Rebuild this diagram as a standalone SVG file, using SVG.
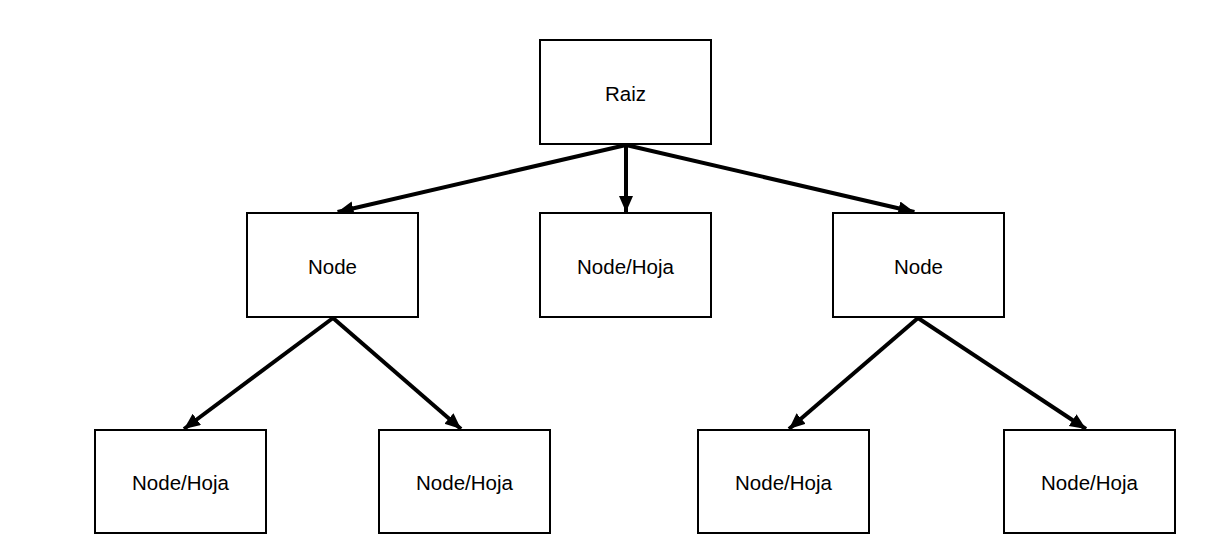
<svg xmlns="http://www.w3.org/2000/svg" width="1216" height="560" viewBox="0 0 1216 560">
<style>
.box{fill:#fff;stroke:#000;stroke-width:2}
.lbl{font-family:"Liberation Sans",Arial,sans-serif;font-size:20.5px;fill:#000;text-anchor:middle;dominant-baseline:central}
.edge{stroke:#000;stroke-width:4;fill:none;marker-end:url(#ah)}
</style>
<defs>
<marker id="ah" markerUnits="userSpaceOnUse" markerWidth="17" markerHeight="15" refX="16" refY="7" orient="auto">
<path d="M0,0 L16,7 L0,14 Z" fill="#000"/>
</marker>
</defs>
<rect width="1216" height="560" fill="#fff"/>
<g id="connectors">
<line class="edge" x1="626" y1="145" x2="337.6" y2="212"/>
<line class="edge" x1="626" y1="145" x2="626" y2="212"/>
<line class="edge" x1="626" y1="145" x2="914.4" y2="212"/>
<line class="edge" x1="333" y1="318" x2="184" y2="429"/>
<line class="edge" x1="333" y1="318" x2="461" y2="429"/>
<line class="edge" x1="918" y1="318" x2="789" y2="429"/>
<line class="edge" x1="918" y1="318" x2="1086" y2="429"/>
</g>
<g id="raiz"><rect class="box" x="540" y="40" width="171" height="104"/><text class="lbl" x="625.5" y="93">Raiz</text></g>
<g id="node-left"><rect class="box" x="247" y="213" width="171" height="104"/><text class="lbl" x="332.5" y="266">Node</text></g>
<g id="node-center"><rect class="box" x="540" y="213" width="171" height="104"/><text class="lbl" x="625.5" y="266">Node/Hoja</text></g>
<g id="node-right"><rect class="box" x="833" y="213" width="171" height="104"/><text class="lbl" x="918.5" y="266">Node</text></g>
<g id="leaf-1"><rect class="box" x="95" y="430" width="171" height="103"/><text class="lbl" x="180.5" y="482">Node/Hoja</text></g>
<g id="leaf-2"><rect class="box" x="379" y="430" width="171" height="103"/><text class="lbl" x="464.5" y="482">Node/Hoja</text></g>
<g id="leaf-3"><rect class="box" x="698" y="430" width="171" height="103"/><text class="lbl" x="783.5" y="482">Node/Hoja</text></g>
<g id="leaf-4"><rect class="box" x="1004" y="430" width="171" height="103"/><text class="lbl" x="1089.5" y="482">Node/Hoja</text></g>
</svg>
